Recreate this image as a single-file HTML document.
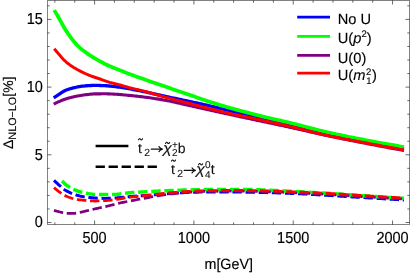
<!DOCTYPE html>
<html>
<head>
<meta charset="utf-8">
<title>plot</title>
<style>
html,body{margin:0;padding:0;background:#fff;}
body{width:410px;height:273px;overflow:hidden;font-family:"Liberation Sans",sans-serif;}
svg{display:block;will-change:transform;}
</style>
</head>
<body>
<svg width="410" height="273" viewBox="0 0 410 273">
<rect x="0" y="0" width="410" height="273" fill="#ffffff"/>
<g fill="none" stroke-linejoin="round">
<path d="M54.00 180.40 L55.50 181.82 L57.00 183.21 L58.50 184.56 L60.00 185.89 L61.50 187.26 L63.00 188.55 L64.50 189.68 L66.00 190.59 L67.50 191.43 L69.00 192.19 L70.50 192.89 L72.00 193.53 L73.50 194.09 L75.00 194.60 L76.50 195.06 L78.00 195.49 L79.50 195.89 L81.00 196.25 L82.50 196.57 L84.00 196.85 L85.50 197.07 L87.00 197.27 L88.50 197.45 L90.00 197.61 L91.50 197.75 L93.00 197.87 L94.50 197.97 L96.00 198.06 L97.50 198.14 L99.00 198.22 L100.50 198.29 L102.00 198.35 L103.50 198.39 L105.00 198.40 L106.50 198.39 L108.00 198.35 L109.50 198.29 L111.00 198.22 L112.50 198.14 L114.00 198.06 L115.50 197.97 L117.00 197.86 L118.50 197.71 L120.00 197.55 L121.50 197.38 L123.00 197.21 L124.50 197.04 L126.00 196.89 L127.50 196.76 L129.00 196.64 L130.50 196.53 L132.00 196.42 L133.50 196.31 L135.00 196.21 L136.50 196.11 L138.00 196.01 L139.50 195.91 L141.00 195.82 L142.50 195.72 L144.00 195.61 L145.50 195.51 L147.00 195.40 L148.50 195.29 L150.00 195.17 L151.50 195.05 L153.00 194.93 L154.50 194.80 L156.00 194.68 L157.50 194.55 L159.00 194.43 L160.50 194.30 L162.00 194.18 L163.50 194.06 L165.00 193.95 L166.50 193.84 L168.00 193.73 L169.50 193.62 L171.00 193.50 L172.50 193.39 L174.00 193.28 L175.50 193.17 L177.00 193.06 L178.50 192.96 L180.00 192.86 L181.50 192.77 L183.00 192.68 L184.50 192.61 L186.00 192.54 L187.50 192.48 L189.00 192.43 L190.50 192.37 L192.00 192.32 L193.50 192.27 L195.00 192.22 L196.50 192.17 L198.00 192.13 L199.50 192.09 L201.00 192.06 L202.50 192.04 L204.00 192.02 L205.50 192.00 L207.00 192.00 L208.50 192.00 L210.00 192.00 L211.50 192.00 L213.00 192.00 L214.50 192.01 L216.00 192.01 L217.50 192.01 L219.00 192.02 L220.50 192.02 L222.00 192.02 L223.50 192.03 L225.00 192.03 L226.50 192.04 L228.00 192.04 L229.50 192.05 L231.00 192.06 L232.50 192.06 L234.00 192.07 L235.50 192.08 L237.00 192.08 L238.50 192.09 L240.00 192.10 L241.50 192.11 L243.00 192.12 L244.50 192.14 L246.00 192.16 L247.50 192.18 L249.00 192.20 L250.50 192.23 L252.00 192.26 L253.50 192.29 L255.00 192.32 L256.50 192.36 L258.00 192.39 L259.50 192.43 L261.00 192.47 L262.50 192.50 L264.00 192.54 L265.50 192.58 L267.00 192.62 L268.50 192.66 L270.00 192.70 L271.50 192.74 L273.00 192.78 L274.50 192.83 L276.00 192.87 L277.50 192.92 L279.00 192.97 L280.50 193.02 L282.00 193.07 L283.50 193.12 L285.00 193.18 L286.50 193.24 L288.00 193.29 L289.50 193.35 L291.00 193.41 L292.50 193.48 L294.00 193.54 L295.50 193.60 L297.00 193.67 L298.50 193.73 L300.00 193.80 L301.50 193.87 L303.00 193.94 L304.50 194.02 L306.00 194.10 L307.50 194.18 L309.00 194.26 L310.50 194.35 L312.00 194.43 L313.50 194.52 L315.00 194.61 L316.50 194.70 L318.00 194.79 L319.50 194.89 L321.00 194.98 L322.50 195.07 L324.00 195.16 L325.50 195.25 L327.00 195.34 L328.50 195.43 L330.00 195.52 L331.50 195.61 L333.00 195.70 L334.50 195.79 L336.00 195.88 L337.50 195.97 L339.00 196.06 L340.50 196.15 L342.00 196.24 L343.50 196.33 L345.00 196.42 L346.50 196.51 L348.00 196.60 L349.50 196.69 L351.00 196.79 L352.50 196.88 L354.00 196.97 L355.50 197.06 L357.00 197.15 L358.50 197.24 L360.00 197.34 L361.50 197.43 L363.00 197.52 L364.50 197.61 L366.00 197.70 L367.50 197.79 L369.00 197.88 L370.50 197.97 L372.00 198.06 L373.50 198.15 L375.00 198.24 L376.50 198.34 L378.00 198.43 L379.50 198.52 L381.00 198.61 L382.50 198.70 L384.00 198.79 L385.50 198.88 L387.00 198.97 L388.50 199.06 L390.00 199.15 L391.50 199.24 L393.00 199.33 L394.50 199.42 L396.00 199.52 L397.50 199.61 L399.00 199.70 L400.50 199.79 L402.00 199.88 L403.50 199.97 L404.00 200.00" stroke="#0000ff" stroke-width="3.0" stroke-dasharray="9.4 3.72"/>
<path d="M62.0 181.0 L63.0 181.9" stroke="#00ff00" stroke-width="3.5"/>
<path d="M62.80 181.70 L64.30 183.25 L65.80 184.65 L67.30 185.81 L68.80 186.81 L70.30 187.72 L71.80 188.54 L73.30 189.28 L74.80 189.92 L76.30 190.50 L77.80 191.04 L79.30 191.53 L80.80 191.99 L82.30 192.40 L83.80 192.75 L85.30 193.06 L86.80 193.34 L88.30 193.61 L89.80 193.86 L91.30 194.08 L92.80 194.25 L94.30 194.37 L95.80 194.43 L97.30 194.47 L98.80 194.52 L100.30 194.55 L101.80 194.58 L103.30 194.59 L104.80 194.60 L106.30 194.60 L107.80 194.58 L109.30 194.56 L110.80 194.52 L112.30 194.48 L113.80 194.44 L115.30 194.39 L116.80 194.29 L118.30 194.14 L119.80 193.95 L121.30 193.73 L122.80 193.51 L124.30 193.30 L125.80 193.12 L127.30 192.97 L128.80 192.85 L130.30 192.73 L131.80 192.62 L133.30 192.52 L134.80 192.42 L136.30 192.32 L137.80 192.23 L139.30 192.14 L140.80 192.05 L142.30 191.96 L143.80 191.88 L145.30 191.80 L146.80 191.71 L148.30 191.63 L149.80 191.54 L151.30 191.46 L152.80 191.38 L154.30 191.30 L155.80 191.22 L157.30 191.15 L158.80 191.07 L160.30 191.00 L161.80 190.93 L163.30 190.86 L164.80 190.79 L166.30 190.73 L167.80 190.67 L169.30 190.61 L170.80 190.55 L172.30 190.49 L173.80 190.43 L175.30 190.37 L176.80 190.32 L178.30 190.26 L179.80 190.21 L181.30 190.16 L182.80 190.12 L184.30 190.07 L185.80 190.03 L187.30 189.99 L188.80 189.95 L190.30 189.92 L191.80 189.88 L193.30 189.84 L194.80 189.81 L196.30 189.78 L197.80 189.74 L199.30 189.71 L200.80 189.69 L202.30 189.66 L203.80 189.64 L205.30 189.62 L206.80 189.60 L208.30 189.59 L209.80 189.57 L211.30 189.56 L212.80 189.55 L214.30 189.53 L215.80 189.52 L217.30 189.51 L218.80 189.49 L220.30 189.48 L221.80 189.47 L223.30 189.46 L224.80 189.45 L226.30 189.44 L227.80 189.43 L229.30 189.43 L230.80 189.42 L232.30 189.41 L233.80 189.41 L235.30 189.41 L236.80 189.40 L238.30 189.40 L239.80 189.40 L241.30 189.40 L242.80 189.41 L244.30 189.43 L245.80 189.45 L247.30 189.48 L248.80 189.52 L250.30 189.56 L251.80 189.60 L253.30 189.65 L254.80 189.70 L256.30 189.76 L257.80 189.81 L259.30 189.87 L260.80 189.93 L262.30 189.99 L263.80 190.05 L265.30 190.12 L266.80 190.18 L268.30 190.23 L269.80 190.29 L271.30 190.35 L272.80 190.41 L274.30 190.47 L275.80 190.54 L277.30 190.61 L278.80 190.68 L280.30 190.76 L281.80 190.83 L283.30 190.91 L284.80 190.99 L286.30 191.07 L287.80 191.15 L289.30 191.23 L290.80 191.31 L292.30 191.39 L293.80 191.47 L295.30 191.55 L296.80 191.63 L298.30 191.71 L299.80 191.79 L301.30 191.87 L302.80 191.94 L304.30 192.02 L305.80 192.10 L307.30 192.18 L308.80 192.25 L310.30 192.33 L311.80 192.41 L313.30 192.49 L314.80 192.56 L316.30 192.64 L317.80 192.72 L319.30 192.81 L320.80 192.89 L322.30 192.97 L323.80 193.06 L325.30 193.14 L326.80 193.23 L328.30 193.32 L329.80 193.41 L331.30 193.50 L332.80 193.60 L334.30 193.69 L335.80 193.79 L337.30 193.89 L338.80 193.99 L340.30 194.10 L341.80 194.20 L343.30 194.30 L344.80 194.41 L346.30 194.52 L347.80 194.62 L349.30 194.73 L350.80 194.84 L352.30 194.94 L353.80 195.05 L355.30 195.16 L356.80 195.26 L358.30 195.37 L359.80 195.47 L361.30 195.58 L362.80 195.68 L364.30 195.79 L365.80 195.89 L367.30 195.99 L368.80 196.09 L370.30 196.19 L371.80 196.29 L373.30 196.39 L374.80 196.49 L376.30 196.59 L377.80 196.69 L379.30 196.79 L380.80 196.89 L382.30 196.98 L383.80 197.08 L385.30 197.18 L386.80 197.28 L388.30 197.38 L389.80 197.48 L391.30 197.58 L392.80 197.67 L394.30 197.77 L395.80 197.87 L397.30 197.97 L398.80 198.06 L400.30 198.16 L401.80 198.26 L403.30 198.35 L404.00 198.40" stroke="#00ff00" stroke-width="3.5" stroke-dasharray="9.4 3.72"/>
<path d="M54.00 210.40 L55.50 210.84 L57.00 211.25 L58.50 211.64 L60.00 212.00 L61.50 212.38 L63.00 212.78 L64.50 213.12 L66.00 213.35 L67.50 213.40 L69.00 213.40 L70.50 213.40 L72.00 213.40 L73.50 213.39 L75.00 213.27 L76.50 213.05 L78.00 212.78 L79.50 212.49 L81.00 212.21 L82.50 211.88 L84.00 211.52 L85.50 211.14 L87.00 210.74 L88.50 210.36 L90.00 210.00 L91.50 209.66 L93.00 209.33 L94.50 209.00 L96.00 208.68 L97.50 208.35 L99.00 208.02 L100.50 207.69 L102.00 207.35 L103.50 207.01 L105.00 206.67 L106.50 206.32 L108.00 205.97 L109.50 205.62 L111.00 205.26 L112.50 204.88 L114.00 204.49 L115.50 204.10 L117.00 203.72 L118.50 203.35 L120.00 203.00 L121.50 202.67 L123.00 202.36 L124.50 202.06 L126.00 201.76 L127.50 201.47 L129.00 201.19 L130.50 200.90 L132.00 200.61 L133.50 200.32 L135.00 200.03 L136.50 199.75 L138.00 199.46 L139.50 199.18 L141.00 198.90 L142.50 198.62 L144.00 198.35 L145.50 198.07 L147.00 197.80 L148.50 197.53 L150.00 197.25 L151.50 196.96 L153.00 196.68 L154.50 196.40 L156.00 196.13 L157.50 195.86 L159.00 195.61 L160.50 195.37 L162.00 195.14 L163.50 194.93 L165.00 194.73 L166.50 194.53 L168.00 194.34 L169.50 194.15 L171.00 193.97 L172.50 193.79 L174.00 193.62 L175.50 193.45 L177.00 193.29 L178.50 193.14 L180.00 192.99 L181.50 192.85 L183.00 192.72 L184.50 192.59 L186.00 192.47 L187.50 192.36 L189.00 192.25 L190.50 192.14 L192.00 192.03 L193.50 191.92 L195.00 191.82 L196.50 191.72 L198.00 191.62 L199.50 191.54 L201.00 191.46 L202.50 191.40 L204.00 191.35 L205.50 191.32 L207.00 191.30 L208.50 191.29 L210.00 191.28 L211.50 191.27 L213.00 191.27 L214.50 191.26 L216.00 191.25 L217.50 191.25 L219.00 191.24 L220.50 191.23 L222.00 191.23 L223.50 191.22 L225.00 191.22 L226.50 191.22 L228.00 191.21 L229.50 191.21 L231.00 191.21 L232.50 191.20 L234.00 191.20 L235.50 191.20 L237.00 191.20 L238.50 191.20 L240.00 191.20 L241.50 191.20 L243.00 191.21 L244.50 191.22 L246.00 191.24 L247.50 191.26 L249.00 191.28 L250.50 191.31 L252.00 191.33 L253.50 191.37 L255.00 191.40 L256.50 191.44 L258.00 191.47 L259.50 191.51 L261.00 191.55 L262.50 191.59 L264.00 191.64 L265.50 191.68 L267.00 191.72 L268.50 191.76 L270.00 191.80 L271.50 191.84 L273.00 191.89 L274.50 191.93 L276.00 191.98 L277.50 192.04 L279.00 192.09 L280.50 192.15 L282.00 192.21 L283.50 192.27 L285.00 192.33 L286.50 192.39 L288.00 192.46 L289.50 192.52 L291.00 192.59 L292.50 192.66 L294.00 192.72 L295.50 192.79 L297.00 192.86 L298.50 192.93 L300.00 193.00 L301.50 193.07 L303.00 193.14 L304.50 193.21 L306.00 193.29 L307.50 193.37 L309.00 193.44 L310.50 193.52 L312.00 193.60 L313.50 193.68 L315.00 193.77 L316.50 193.85 L318.00 193.93 L319.50 194.02 L321.00 194.10 L322.50 194.19 L324.00 194.27 L325.50 194.36 L327.00 194.44 L328.50 194.53 L330.00 194.61 L331.50 194.70 L333.00 194.79 L334.50 194.88 L336.00 194.97 L337.50 195.06 L339.00 195.15 L340.50 195.24 L342.00 195.33 L343.50 195.42 L345.00 195.51 L346.50 195.61 L348.00 195.70 L349.50 195.79 L351.00 195.89 L352.50 195.98 L354.00 196.07 L355.50 196.16 L357.00 196.26 L358.50 196.35 L360.00 196.44 L361.50 196.53 L363.00 196.62 L364.50 196.71 L366.00 196.80 L367.50 196.89 L369.00 196.98 L370.50 197.07 L372.00 197.15 L373.50 197.24 L375.00 197.33 L376.50 197.42 L378.00 197.51 L379.50 197.59 L381.00 197.68 L382.50 197.77 L384.00 197.85 L385.50 197.94 L387.00 198.03 L388.50 198.11 L390.00 198.20 L391.50 198.29 L393.00 198.37 L394.50 198.46 L396.00 198.55 L397.50 198.63 L399.00 198.72 L400.50 198.80 L402.00 198.89 L403.50 198.97 L404.00 199.00" stroke="#800080" stroke-width="2.75" stroke-dasharray="9.4 3.72"/>
<path d="M54.00 187.60 L55.50 188.90 L57.00 190.13 L58.50 191.30 L60.00 192.40 L61.50 193.47 L63.00 194.48 L64.50 195.36 L66.00 196.05 L67.50 196.68 L69.00 197.27 L70.50 197.80 L72.00 198.26 L73.50 198.67 L75.00 199.00 L76.50 199.28 L78.00 199.54 L79.50 199.77 L81.00 199.98 L82.50 200.16 L84.00 200.31 L85.50 200.44 L87.00 200.57 L88.50 200.69 L90.00 200.81 L91.50 200.90 L93.00 200.96 L94.50 201.00 L96.00 200.99 L97.50 200.96 L99.00 200.91 L100.50 200.85 L102.00 200.77 L103.50 200.69 L105.00 200.60 L106.50 200.50 L108.00 200.38 L109.50 200.24 L111.00 200.08 L112.50 199.90 L114.00 199.72 L115.50 199.54 L117.00 199.32 L118.50 199.07 L120.00 198.80 L121.50 198.52 L123.00 198.25 L124.50 197.98 L126.00 197.74 L127.50 197.53 L129.00 197.34 L130.50 197.16 L132.00 196.98 L133.50 196.81 L135.00 196.65 L136.50 196.50 L138.00 196.34 L139.50 196.19 L141.00 196.04 L142.50 195.88 L144.00 195.73 L145.50 195.57 L147.00 195.40 L148.50 195.23 L150.00 195.05 L151.50 194.87 L153.00 194.69 L154.50 194.51 L156.00 194.33 L157.50 194.14 L159.00 193.97 L160.50 193.79 L162.00 193.62 L163.50 193.45 L165.00 193.30 L166.50 193.15 L168.00 193.01 L169.50 192.87 L171.00 192.73 L172.50 192.59 L174.00 192.46 L175.50 192.32 L177.00 192.20 L178.50 192.08 L180.00 191.96 L181.50 191.85 L183.00 191.74 L184.50 191.65 L186.00 191.56 L187.50 191.47 L189.00 191.39 L190.50 191.32 L192.00 191.24 L193.50 191.17 L195.00 191.09 L196.50 191.03 L198.00 190.96 L199.50 190.91 L201.00 190.85 L202.50 190.80 L204.00 190.76 L205.50 190.73 L207.00 190.70 L208.50 190.68 L210.00 190.65 L211.50 190.63 L213.00 190.61 L214.50 190.59 L216.00 190.57 L217.50 190.55 L219.00 190.53 L220.50 190.52 L222.00 190.50 L223.50 190.49 L225.00 190.47 L226.50 190.46 L228.00 190.45 L229.50 190.44 L231.00 190.43 L232.50 190.42 L234.00 190.41 L235.50 190.41 L237.00 190.40 L238.50 190.40 L240.00 190.40 L241.50 190.40 L243.00 190.41 L244.50 190.42 L246.00 190.44 L247.50 190.46 L249.00 190.48 L250.50 190.51 L252.00 190.54 L253.50 190.57 L255.00 190.60 L256.50 190.64 L258.00 190.68 L259.50 190.72 L261.00 190.76 L262.50 190.80 L264.00 190.84 L265.50 190.88 L267.00 190.92 L268.50 190.96 L270.00 191.00 L271.50 191.04 L273.00 191.08 L274.50 191.13 L276.00 191.17 L277.50 191.22 L279.00 191.27 L280.50 191.33 L282.00 191.38 L283.50 191.44 L285.00 191.49 L286.50 191.55 L288.00 191.61 L289.50 191.67 L291.00 191.73 L292.50 191.79 L294.00 191.85 L295.50 191.91 L297.00 191.98 L298.50 192.04 L300.00 192.10 L301.50 192.16 L303.00 192.22 L304.50 192.29 L306.00 192.35 L307.50 192.42 L309.00 192.48 L310.50 192.55 L312.00 192.62 L313.50 192.68 L315.00 192.75 L316.50 192.82 L318.00 192.90 L319.50 192.97 L321.00 193.04 L322.50 193.12 L324.00 193.19 L325.50 193.27 L327.00 193.35 L328.50 193.43 L330.00 193.51 L331.50 193.59 L333.00 193.68 L334.50 193.77 L336.00 193.86 L337.50 193.95 L339.00 194.05 L340.50 194.14 L342.00 194.24 L343.50 194.33 L345.00 194.43 L346.50 194.53 L348.00 194.63 L349.50 194.73 L351.00 194.83 L352.50 194.93 L354.00 195.03 L355.50 195.13 L357.00 195.23 L358.50 195.33 L360.00 195.42 L361.50 195.52 L363.00 195.62 L364.50 195.71 L366.00 195.80 L367.50 195.89 L369.00 195.98 L370.50 196.07 L372.00 196.16 L373.50 196.25 L375.00 196.34 L376.50 196.43 L378.00 196.52 L379.50 196.60 L381.00 196.69 L382.50 196.78 L384.00 196.87 L385.50 196.95 L387.00 197.04 L388.50 197.13 L390.00 197.21 L391.50 197.30 L393.00 197.38 L394.50 197.47 L396.00 197.55 L397.50 197.64 L399.00 197.72 L400.50 197.81 L402.00 197.89 L403.50 197.97 L404.00 198.00" stroke="#ff0000" stroke-width="2.8" stroke-dasharray="9.4 3.72"/>
<path d="M53.70 97.80 L55.20 96.83 L56.70 95.87 L58.20 94.91 L59.70 93.94 L61.20 92.90 L62.70 91.88 L64.20 90.98 L65.70 90.31 L67.20 89.72 L68.70 89.19 L70.20 88.72 L71.70 88.29 L73.20 87.91 L74.70 87.56 L76.20 87.25 L77.70 86.95 L79.20 86.67 L80.70 86.42 L82.20 86.20 L83.70 86.02 L85.20 85.88 L86.70 85.77 L88.20 85.67 L89.70 85.57 L91.20 85.49 L92.70 85.44 L94.20 85.40 L95.70 85.40 L97.20 85.42 L98.70 85.45 L100.20 85.50 L101.70 85.56 L103.20 85.62 L104.70 85.69 L106.20 85.76 L107.70 85.87 L109.20 85.99 L110.70 86.14 L112.20 86.29 L113.70 86.46 L115.20 86.62 L116.70 86.80 L118.20 87.00 L119.70 87.22 L121.20 87.45 L122.70 87.69 L124.20 87.93 L125.70 88.18 L127.20 88.43 L128.70 88.69 L130.20 88.96 L131.70 89.23 L133.20 89.51 L134.70 89.80 L136.20 90.09 L137.70 90.39 L139.20 90.69 L140.70 91.00 L142.20 91.31 L143.70 91.62 L145.20 91.93 L146.70 92.24 L148.20 92.55 L149.70 92.87 L151.20 93.19 L152.70 93.52 L154.20 93.85 L155.70 94.19 L157.20 94.52 L158.70 94.86 L160.20 95.20 L161.70 95.53 L163.20 95.87 L164.70 96.20 L166.20 96.53 L167.70 96.85 L169.20 97.17 L170.70 97.49 L172.20 97.80 L173.70 98.11 L175.20 98.43 L176.70 98.74 L178.20 99.05 L179.70 99.36 L181.20 99.67 L182.70 99.99 L184.20 100.30 L185.70 100.62 L187.20 100.94 L188.70 101.27 L190.20 101.59 L191.70 101.91 L193.20 102.24 L194.70 102.56 L196.20 102.89 L197.70 103.22 L199.20 103.55 L200.70 103.88 L202.20 104.22 L203.70 104.55 L205.20 104.89 L206.70 105.23 L208.20 105.57 L209.70 105.92 L211.20 106.26 L212.70 106.61 L214.20 106.96 L215.70 107.31 L217.20 107.67 L218.70 108.02 L220.20 108.38 L221.70 108.74 L223.20 109.10 L224.70 109.46 L226.20 109.82 L227.70 110.18 L229.20 110.55 L230.70 110.92 L232.20 111.29 L233.70 111.66 L235.20 112.04 L236.70 112.42 L238.20 112.80 L239.70 113.18 L241.20 113.56 L242.70 113.94 L244.20 114.32 L245.70 114.69 L247.20 115.06 L248.70 115.43 L250.20 115.79 L251.70 116.15 L253.20 116.51 L254.70 116.87 L256.20 117.23 L257.70 117.59 L259.20 117.94 L260.70 118.29 L262.20 118.64 L263.70 118.99 L265.20 119.34 L266.70 119.68 L268.20 120.02 L269.70 120.36 L271.20 120.69 L272.70 121.01 L274.20 121.34 L275.70 121.66 L277.20 121.97 L278.70 122.29 L280.20 122.61 L281.70 122.92 L283.20 123.24 L284.70 123.56 L286.20 123.89 L287.70 124.21 L289.20 124.54 L290.70 124.88 L292.20 125.22 L293.70 125.57 L295.20 125.91 L296.70 126.26 L298.20 126.61 L299.70 126.97 L301.20 127.32 L302.70 127.68 L304.20 128.04 L305.70 128.39 L307.20 128.75 L308.70 129.11 L310.20 129.47 L311.70 129.83 L313.20 130.19 L314.70 130.54 L316.20 130.90 L317.70 131.25 L319.20 131.60 L320.70 131.95 L322.20 132.30 L323.70 132.64 L325.20 132.98 L326.70 133.31 L328.20 133.64 L329.70 133.97 L331.20 134.30 L332.70 134.63 L334.20 134.95 L335.70 135.27 L337.20 135.59 L338.70 135.91 L340.20 136.23 L341.70 136.55 L343.20 136.87 L344.70 137.18 L346.20 137.49 L347.70 137.80 L349.20 138.11 L350.70 138.42 L352.20 138.73 L353.70 139.04 L355.20 139.34 L356.70 139.65 L358.20 139.95 L359.70 140.25 L361.20 140.55 L362.70 140.85 L364.20 141.14 L365.70 141.44 L367.20 141.74 L368.70 142.03 L370.20 142.32 L371.70 142.61 L373.20 142.90 L374.70 143.19 L376.20 143.48 L377.70 143.77 L379.20 144.05 L380.70 144.34 L382.20 144.62 L383.70 144.90 L385.20 145.18 L386.70 145.46 L388.20 145.74 L389.70 146.02 L391.20 146.30 L392.70 146.57 L394.20 146.84 L395.70 147.12 L397.20 147.39 L398.70 147.66 L400.20 147.93 L401.70 148.19 L403.20 148.46 L404.00 148.60" stroke="#0000ff" stroke-width="3.3"/>
<path d="M54.20 10.10 L55.70 12.61 L57.20 15.15 L58.70 17.73 L60.20 20.35 L61.70 23.09 L63.20 25.87 L64.70 28.51 L66.20 30.90 L67.70 33.15 L69.20 35.29 L70.70 37.36 L72.20 39.36 L73.70 41.26 L75.20 43.03 L76.70 44.67 L78.20 46.21 L79.70 47.63 L81.20 48.92 L82.70 50.09 L84.20 51.21 L85.70 52.31 L87.20 53.39 L88.70 54.43 L90.20 55.43 L91.70 56.39 L93.20 57.33 L94.70 58.25 L96.20 59.15 L97.70 60.02 L99.20 60.86 L100.70 61.68 L102.20 62.48 L103.70 63.26 L105.20 64.03 L106.70 64.77 L108.20 65.48 L109.70 66.17 L111.20 66.82 L112.70 67.44 L114.20 68.04 L115.70 68.63 L117.20 69.21 L118.70 69.79 L120.20 70.38 L121.70 70.99 L123.20 71.59 L124.70 72.20 L126.20 72.79 L127.70 73.37 L129.20 73.93 L130.70 74.49 L132.20 75.04 L133.70 75.59 L135.20 76.13 L136.70 76.67 L138.20 77.20 L139.70 77.73 L141.20 78.26 L142.70 78.79 L144.20 79.32 L145.70 79.84 L147.20 80.37 L148.70 80.90 L150.20 81.42 L151.70 81.94 L153.20 82.46 L154.70 82.98 L156.20 83.50 L157.70 84.02 L159.20 84.53 L160.70 85.04 L162.20 85.56 L163.70 86.07 L165.20 86.58 L166.70 87.10 L168.20 87.61 L169.70 88.12 L171.20 88.63 L172.70 89.14 L174.20 89.65 L175.70 90.16 L177.20 90.67 L178.70 91.18 L180.20 91.68 L181.70 92.19 L183.20 92.70 L184.70 93.21 L186.20 93.73 L187.70 94.24 L189.20 94.76 L190.70 95.28 L192.20 95.81 L193.70 96.34 L195.20 96.86 L196.70 97.39 L198.20 97.92 L199.70 98.44 L201.20 98.96 L202.70 99.47 L204.20 99.98 L205.70 100.48 L207.20 100.96 L208.70 101.45 L210.20 101.93 L211.70 102.40 L213.20 102.87 L214.70 103.34 L216.20 103.80 L217.70 104.26 L219.20 104.72 L220.70 105.17 L222.20 105.62 L223.70 106.06 L225.20 106.50 L226.70 106.94 L228.20 107.37 L229.70 107.80 L231.20 108.22 L232.70 108.64 L234.20 109.06 L235.70 109.47 L237.20 109.88 L238.70 110.29 L240.20 110.69 L241.70 111.09 L243.20 111.48 L244.70 111.88 L246.20 112.27 L247.70 112.66 L249.20 113.05 L250.70 113.44 L252.20 113.83 L253.70 114.21 L255.20 114.59 L256.70 114.97 L258.20 115.35 L259.70 115.72 L261.20 116.10 L262.70 116.47 L264.20 116.84 L265.70 117.20 L267.20 117.57 L268.70 117.93 L270.20 118.29 L271.70 118.64 L273.20 118.98 L274.70 119.33 L276.20 119.67 L277.70 120.01 L279.20 120.35 L280.70 120.68 L282.20 121.02 L283.70 121.37 L285.20 121.71 L286.70 122.06 L288.20 122.41 L289.70 122.77 L291.20 123.13 L292.70 123.50 L294.20 123.87 L295.70 124.25 L297.20 124.63 L298.70 125.02 L300.20 125.40 L301.70 125.79 L303.20 126.18 L304.70 126.57 L306.20 126.96 L307.70 127.36 L309.20 127.75 L310.70 128.14 L312.20 128.53 L313.70 128.91 L315.20 129.30 L316.70 129.68 L318.20 130.05 L319.70 130.43 L321.20 130.80 L322.70 131.16 L324.20 131.52 L325.70 131.87 L327.20 132.22 L328.70 132.56 L330.20 132.89 L331.70 133.23 L333.20 133.56 L334.70 133.88 L336.20 134.21 L337.70 134.53 L339.20 134.85 L340.70 135.16 L342.20 135.48 L343.70 135.79 L345.20 136.10 L346.70 136.40 L348.20 136.71 L349.70 137.01 L351.20 137.31 L352.70 137.61 L354.20 137.91 L355.70 138.20 L357.20 138.50 L358.70 138.79 L360.20 139.08 L361.70 139.37 L363.20 139.66 L364.70 139.95 L366.20 140.24 L367.70 140.52 L369.20 140.81 L370.70 141.09 L372.20 141.37 L373.70 141.65 L375.20 141.93 L376.70 142.21 L378.20 142.49 L379.70 142.76 L381.20 143.04 L382.70 143.31 L384.20 143.58 L385.70 143.85 L387.20 144.11 L388.70 144.38 L390.20 144.64 L391.70 144.91 L393.20 145.17 L394.70 145.43 L396.20 145.68 L397.70 145.94 L399.20 146.20 L400.70 146.45 L402.20 146.70 L403.70 146.95 L404.00 147.00" stroke="#00ff00" stroke-width="3.7"/>
<path d="M53.70 104.10 L55.20 103.35 L56.70 102.64 L58.20 101.95 L59.70 101.30 L61.20 100.65 L62.70 100.04 L64.20 99.47 L65.70 98.97 L67.20 98.51 L68.70 98.06 L70.20 97.65 L71.70 97.26 L73.20 96.90 L74.70 96.56 L76.20 96.25 L77.70 95.96 L79.20 95.68 L80.70 95.42 L82.20 95.18 L83.70 94.96 L85.20 94.78 L86.70 94.60 L88.20 94.42 L89.70 94.26 L91.20 94.11 L92.70 94.00 L94.20 93.92 L95.70 93.89 L97.20 93.86 L98.70 93.84 L100.20 93.83 L101.70 93.81 L103.20 93.80 L104.70 93.80 L106.20 93.81 L107.70 93.84 L109.20 93.90 L110.70 93.97 L112.20 94.05 L113.70 94.13 L115.20 94.21 L116.70 94.30 L118.20 94.41 L119.70 94.53 L121.20 94.66 L122.70 94.79 L124.20 94.93 L125.70 95.08 L127.20 95.22 L128.70 95.36 L130.20 95.51 L131.70 95.66 L133.20 95.81 L134.70 95.96 L136.20 96.12 L137.70 96.29 L139.20 96.45 L140.70 96.62 L142.20 96.80 L143.70 96.98 L145.20 97.17 L146.70 97.36 L148.20 97.56 L149.70 97.76 L151.20 97.98 L152.70 98.20 L154.20 98.42 L155.70 98.66 L157.20 98.90 L158.70 99.14 L160.20 99.39 L161.70 99.65 L163.20 99.91 L164.70 100.18 L166.20 100.45 L167.70 100.73 L169.20 101.02 L170.70 101.33 L172.20 101.64 L173.70 101.97 L175.20 102.30 L176.70 102.64 L178.20 102.98 L179.70 103.33 L181.20 103.68 L182.70 104.02 L184.20 104.37 L185.70 104.71 L187.20 105.04 L188.70 105.38 L190.20 105.72 L191.70 106.05 L193.20 106.39 L194.70 106.73 L196.20 107.07 L197.70 107.41 L199.20 107.75 L200.70 108.09 L202.20 108.43 L203.70 108.76 L205.20 109.10 L206.70 109.43 L208.20 109.77 L209.70 110.10 L211.20 110.43 L212.70 110.76 L214.20 111.08 L215.70 111.41 L217.20 111.74 L218.70 112.07 L220.20 112.39 L221.70 112.72 L223.20 113.04 L224.70 113.37 L226.20 113.69 L227.70 114.02 L229.20 114.34 L230.70 114.67 L232.20 114.99 L233.70 115.32 L235.20 115.64 L236.70 115.96 L238.20 116.29 L239.70 116.61 L241.20 116.93 L242.70 117.26 L244.20 117.58 L245.70 117.90 L247.20 118.22 L248.70 118.54 L250.20 118.85 L251.70 119.17 L253.20 119.49 L254.70 119.80 L256.20 120.12 L257.70 120.43 L259.20 120.74 L260.70 121.05 L262.20 121.37 L263.70 121.68 L265.20 122.00 L266.70 122.31 L268.20 122.63 L269.70 122.95 L271.20 123.27 L272.70 123.59 L274.20 123.91 L275.70 124.23 L277.20 124.55 L278.70 124.87 L280.20 125.19 L281.70 125.52 L283.20 125.84 L284.70 126.16 L286.20 126.49 L287.70 126.82 L289.20 127.14 L290.70 127.47 L292.20 127.80 L293.70 128.14 L295.20 128.47 L296.70 128.81 L298.20 129.15 L299.70 129.49 L301.20 129.83 L302.70 130.17 L304.20 130.51 L305.70 130.85 L307.20 131.19 L308.70 131.53 L310.20 131.87 L311.70 132.21 L313.20 132.55 L314.70 132.89 L316.20 133.23 L317.70 133.56 L319.20 133.89 L320.70 134.23 L322.20 134.55 L323.70 134.88 L325.20 135.20 L326.70 135.52 L328.20 135.84 L329.70 136.16 L331.20 136.47 L332.70 136.78 L334.20 137.09 L335.70 137.40 L337.20 137.71 L338.70 138.01 L340.20 138.32 L341.70 138.62 L343.20 138.92 L344.70 139.22 L346.20 139.52 L347.70 139.82 L349.20 140.12 L350.70 140.42 L352.20 140.71 L353.70 141.01 L355.20 141.30 L356.70 141.59 L358.20 141.89 L359.70 142.18 L361.20 142.47 L362.70 142.76 L364.20 143.05 L365.70 143.34 L367.20 143.63 L368.70 143.92 L370.20 144.21 L371.70 144.50 L373.20 144.78 L374.70 145.07 L376.20 145.35 L377.70 145.64 L379.20 145.92 L380.70 146.20 L382.20 146.49 L383.70 146.77 L385.20 147.05 L386.70 147.33 L388.20 147.61 L389.70 147.89 L391.20 148.16 L392.70 148.44 L394.20 148.72 L395.70 148.99 L397.20 149.27 L398.70 149.54 L400.20 149.81 L401.70 150.08 L403.20 150.36 L404.00 150.50" stroke="#800080" stroke-width="3.1"/>
<path d="M54.20 48.80 L55.70 50.57 L57.20 52.33 L58.70 54.06 L60.20 55.79 L61.70 57.54 L63.20 59.20 L64.70 60.66 L66.20 62.01 L67.70 63.26 L69.20 64.42 L70.70 65.49 L72.20 66.49 L73.70 67.45 L75.20 68.35 L76.70 69.22 L78.20 70.04 L79.70 70.84 L81.20 71.62 L82.70 72.37 L84.20 73.09 L85.70 73.78 L87.20 74.45 L88.70 75.08 L90.20 75.68 L91.70 76.24 L93.20 76.76 L94.70 77.27 L96.20 77.75 L97.70 78.24 L99.20 78.73 L100.70 79.24 L102.20 79.77 L103.70 80.30 L105.20 80.83 L106.70 81.35 L108.20 81.84 L109.70 82.31 L111.20 82.74 L112.70 83.14 L114.20 83.53 L115.70 83.90 L117.20 84.27 L118.70 84.65 L120.20 85.05 L121.70 85.48 L123.20 85.92 L124.70 86.35 L126.20 86.78 L127.70 87.19 L129.20 87.58 L130.70 87.96 L132.20 88.34 L133.70 88.71 L135.20 89.07 L136.70 89.44 L138.20 89.80 L139.70 90.16 L141.20 90.53 L142.70 90.90 L144.20 91.27 L145.70 91.66 L147.20 92.05 L148.70 92.46 L150.20 92.88 L151.70 93.30 L153.20 93.73 L154.70 94.17 L156.20 94.61 L157.70 95.05 L159.20 95.49 L160.70 95.93 L162.20 96.36 L163.70 96.79 L165.20 97.21 L166.70 97.62 L168.20 98.02 L169.70 98.42 L171.20 98.81 L172.70 99.19 L174.20 99.57 L175.70 99.95 L177.20 100.33 L178.70 100.71 L180.20 101.08 L181.70 101.46 L183.20 101.83 L184.70 102.21 L186.20 102.59 L187.70 102.98 L189.20 103.37 L190.70 103.76 L192.20 104.15 L193.70 104.55 L195.20 104.94 L196.70 105.34 L198.20 105.73 L199.70 106.13 L201.20 106.52 L202.70 106.91 L204.20 107.29 L205.70 107.67 L207.20 108.05 L208.70 108.43 L210.20 108.80 L211.70 109.18 L213.20 109.55 L214.70 109.93 L216.20 110.30 L217.70 110.66 L219.20 111.03 L220.70 111.39 L222.20 111.75 L223.70 112.10 L225.20 112.45 L226.70 112.79 L228.20 113.12 L229.70 113.45 L231.20 113.77 L232.70 114.08 L234.20 114.38 L235.70 114.68 L237.20 114.97 L238.70 115.26 L240.20 115.55 L241.70 115.84 L243.20 116.13 L244.70 116.43 L246.20 116.73 L247.70 117.03 L249.20 117.34 L250.70 117.66 L252.20 117.98 L253.70 118.30 L255.20 118.63 L256.70 118.96 L258.20 119.29 L259.70 119.62 L261.20 119.96 L262.70 120.29 L264.20 120.63 L265.70 120.96 L267.20 121.30 L268.70 121.63 L270.20 121.97 L271.70 122.30 L273.20 122.63 L274.70 122.97 L276.20 123.30 L277.70 123.64 L279.20 123.97 L280.70 124.31 L282.20 124.65 L283.70 124.99 L285.20 125.33 L286.70 125.67 L288.20 126.01 L289.70 126.36 L291.20 126.72 L292.70 127.07 L294.20 127.43 L295.70 127.80 L297.20 128.16 L298.70 128.53 L300.20 128.91 L301.70 129.28 L303.20 129.65 L304.70 130.03 L306.20 130.41 L307.70 130.78 L309.20 131.16 L310.70 131.53 L312.20 131.90 L313.70 132.27 L315.20 132.64 L316.70 133.00 L318.20 133.36 L319.70 133.72 L321.20 134.07 L322.70 134.42 L324.20 134.76 L325.70 135.10 L327.20 135.43 L328.70 135.75 L330.20 136.07 L331.70 136.38 L333.20 136.70 L334.70 137.00 L336.20 137.31 L337.70 137.61 L339.20 137.91 L340.70 138.20 L342.20 138.50 L343.70 138.79 L345.20 139.08 L346.70 139.37 L348.20 139.65 L349.70 139.94 L351.20 140.22 L352.70 140.50 L354.20 140.78 L355.70 141.07 L357.20 141.35 L358.70 141.63 L360.20 141.91 L361.70 142.19 L363.20 142.47 L364.70 142.75 L366.20 143.04 L367.70 143.32 L369.20 143.60 L370.70 143.89 L372.20 144.17 L373.70 144.45 L375.20 144.73 L376.70 145.01 L378.20 145.29 L379.70 145.57 L381.20 145.85 L382.70 146.12 L384.20 146.40 L385.70 146.68 L387.20 146.95 L388.70 147.23 L390.20 147.50 L391.70 147.78 L393.20 148.05 L394.70 148.32 L396.20 148.60 L397.70 148.87 L399.20 149.14 L400.70 149.41 L402.20 149.68 L403.70 149.95 L404.00 150.00" stroke="#ff0000" stroke-width="2.95"/>
</g>
<g stroke="#828282" stroke-width="1" fill="none" shape-rendering="crispEdges">
<rect x="47.5" y="0.5" width="362.0" height="224.0"/>
</g>
<g stroke="#505050" stroke-width="0.85" fill="none">
<path d="M54.85 225.0 V222.3"/>
<path d="M54.85 0.0 V2.7"/>
<path d="M74.72 225.0 V222.3"/>
<path d="M74.72 0.0 V2.7"/>
<path d="M94.58 225.0 V220.5"/>
<path d="M94.58 0.0 V4.5"/>
<path d="M114.44 225.0 V222.3"/>
<path d="M114.44 0.0 V2.7"/>
<path d="M134.31 225.0 V222.3"/>
<path d="M134.31 0.0 V2.7"/>
<path d="M154.18 225.0 V222.3"/>
<path d="M154.18 0.0 V2.7"/>
<path d="M174.04 225.0 V222.3"/>
<path d="M174.04 0.0 V2.7"/>
<path d="M193.91 225.0 V220.5"/>
<path d="M193.91 0.0 V4.5"/>
<path d="M213.77 225.0 V222.3"/>
<path d="M213.77 0.0 V2.7"/>
<path d="M233.63 225.0 V222.3"/>
<path d="M233.63 0.0 V2.7"/>
<path d="M253.50 225.0 V222.3"/>
<path d="M253.50 0.0 V2.7"/>
<path d="M273.37 225.0 V222.3"/>
<path d="M273.37 0.0 V2.7"/>
<path d="M293.23 225.0 V220.5"/>
<path d="M293.23 0.0 V4.5"/>
<path d="M313.09 225.0 V222.3"/>
<path d="M313.09 0.0 V2.7"/>
<path d="M332.96 225.0 V222.3"/>
<path d="M332.96 0.0 V2.7"/>
<path d="M352.82 225.0 V222.3"/>
<path d="M352.82 0.0 V2.7"/>
<path d="M372.69 225.0 V222.3"/>
<path d="M372.69 0.0 V2.7"/>
<path d="M392.55 225.0 V220.5"/>
<path d="M392.55 0.0 V4.5"/>
<path d="M47.0 222.50 H51.5"/>
<path d="M410.0 222.50 H405.5"/>
<path d="M47.0 208.96 H49.7"/>
<path d="M410.0 208.96 H407.3"/>
<path d="M47.0 195.42 H49.7"/>
<path d="M410.0 195.42 H407.3"/>
<path d="M47.0 181.88 H49.7"/>
<path d="M410.0 181.88 H407.3"/>
<path d="M47.0 168.34 H49.7"/>
<path d="M410.0 168.34 H407.3"/>
<path d="M47.0 154.80 H51.5"/>
<path d="M410.0 154.80 H405.5"/>
<path d="M47.0 141.26 H49.7"/>
<path d="M410.0 141.26 H407.3"/>
<path d="M47.0 127.72 H49.7"/>
<path d="M410.0 127.72 H407.3"/>
<path d="M47.0 114.18 H49.7"/>
<path d="M410.0 114.18 H407.3"/>
<path d="M47.0 100.64 H49.7"/>
<path d="M410.0 100.64 H407.3"/>
<path d="M47.0 87.10 H51.5"/>
<path d="M410.0 87.10 H405.5"/>
<path d="M47.0 73.56 H49.7"/>
<path d="M410.0 73.56 H407.3"/>
<path d="M47.0 60.02 H49.7"/>
<path d="M410.0 60.02 H407.3"/>
<path d="M47.0 46.48 H49.7"/>
<path d="M410.0 46.48 H407.3"/>
<path d="M47.0 32.94 H49.7"/>
<path d="M410.0 32.94 H407.3"/>
<path d="M47.0 19.40 H51.5"/>
<path d="M410.0 19.40 H405.5"/>
<path d="M47.0 5.86 H49.7"/>
<path d="M410.0 5.86 H407.3"/>
</g>
<g font-family="Liberation Sans, sans-serif" font-size="14" fill="#000000" text-rendering="geometricPrecision">
<text transform="translate(42.8,227.45) scale(1,1.10)" font-size="14.5" stroke="#000" stroke-width="0.15" text-anchor="end">0</text>
<text transform="translate(42.8,159.75) scale(1,1.10)" font-size="14.5" stroke="#000" stroke-width="0.15" text-anchor="end">5</text>
<text transform="translate(42.8,92.05) scale(1,1.10)" font-size="14.5" stroke="#000" stroke-width="0.15" text-anchor="end">10</text>
<text transform="translate(42.8,24.35) scale(1,1.10)" font-size="14.5" stroke="#000" stroke-width="0.15" text-anchor="end">15</text>
<text transform="translate(94.58,243.2) scale(1,1.10)" font-size="14.5" stroke="#000" stroke-width="0.15" text-anchor="middle">500</text>
<text transform="translate(193.91,243.2) scale(1,1.10)" font-size="14.5" stroke="#000" stroke-width="0.15" text-anchor="middle">1000</text>
<text transform="translate(293.23,243.2) scale(1,1.10)" font-size="14.5" stroke="#000" stroke-width="0.15" text-anchor="middle">1500</text>
<text transform="translate(392.55,243.2) scale(1,1.10)" font-size="14.5" stroke="#000" stroke-width="0.15" text-anchor="middle">2000</text>
<text transform="translate(228.7,269.1) scale(1,1.04)" font-size="14.3" stroke="#000" stroke-width="0.15" text-anchor="middle">m[GeV]</text>
<g transform="translate(13.2,149.0) rotate(-90)"><text x="0" y="0" stroke="#000" stroke-width="0.12">&#916;<tspan font-size="10.8" dy="2.6">NLO&#8722;LO</tspan><tspan dy="-2.6">[%]</tspan></text></g>
<path d="M297.2 17.1 H330" stroke="#0000ff" stroke-width="2.7" fill="none"/>
<text x="337.8" y="23.7" font-size="14.65" stroke="#000" stroke-width="0.12">No U</text>
<path d="M297.2 36.4 H330" stroke="#00ff00" stroke-width="2.7" fill="none"/>
<text x="337.8" y="42.8" font-size="14.65" stroke="#000" stroke-width="0.12">U(<tspan font-style="italic">p</tspan><tspan font-size="9.5" dy="-5.5">2</tspan><tspan dy="5.5">)</tspan></text>
<path d="M297.2 55.3 H330" stroke="#800080" stroke-width="2.7" fill="none"/>
<text x="337.8" y="63.0" font-size="14.65" stroke="#000" stroke-width="0.12">U(0)</text>
<path d="M297.2 73.1 H330" stroke="#ff0000" stroke-width="2.7" fill="none"/>
<text x="337.8" y="80.1" font-size="14.65" stroke="#000" stroke-width="0.12">U(<tspan font-style="italic">m</tspan><tspan font-size="9.5" dy="-5.1" dx="0.6">2</tspan><tspan font-size="9.5" dx="-5.0" dy="8.6">1</tspan><tspan dy="-3.5" dx="0.3">)</tspan></text>
<path d="M95.6 145.9 H128.4" stroke="#000" stroke-width="2.5" fill="none"/>
<path d="M95.6 166.8 H157.4" stroke="#000" stroke-width="2.5" stroke-dasharray="9.3 3.7" fill="none"/>
<g transform="translate(0,0)" fill="#111" stroke="#111" stroke-width="0.1"><text x="138.0" y="152.5">t</text><path d="M138.45 139.80 q1.02 -1.98 2.05 -0.50 t2.05 -0.50" stroke="#111" stroke-width="1.1" fill="none" stroke-linecap="round"/><text x="144.3" y="155.5" font-size="10.4">2</text><path d="M151.2 149.1 H161.6 M159.0 146.6 Q160.2 148.5 162.4 149.1 Q160.2 149.7 159.0 151.6" stroke="#111" stroke-width="1.15" fill="none" stroke-linejoin="round" stroke-linecap="round"/><text transform="translate(163.0,152.6) scale(1.12,1)" font-size="14.6" font-style="italic">&#967;</text><path d="M165.55 143.40 q1.02 -1.98 2.05 -0.50 t2.05 -0.50" stroke="#111" stroke-width="1.1" fill="none" stroke-linecap="round"/><text x="171.9" y="148.2" font-size="10">+</text><text x="171.9" y="155.8" font-size="10">2</text><text x="177.7" y="152.5">b</text></g>
<g transform="translate(33,21.3)" fill="#111" stroke="#111" stroke-width="0.1"><text x="138.0" y="152.5">t</text><path d="M138.45 139.80 q1.02 -1.98 2.05 -0.50 t2.05 -0.50" stroke="#111" stroke-width="1.1" fill="none" stroke-linecap="round"/><text x="144.3" y="155.5" font-size="10.4">2</text><path d="M151.2 149.1 H161.6 M159.0 146.6 Q160.2 148.5 162.4 149.1 Q160.2 149.7 159.0 151.6" stroke="#111" stroke-width="1.15" fill="none" stroke-linejoin="round" stroke-linecap="round"/><text transform="translate(163.0,152.6) scale(1.12,1)" font-size="14.6" font-style="italic">&#967;</text><path d="M165.55 143.40 q1.02 -1.98 2.05 -0.50 t2.05 -0.50" stroke="#111" stroke-width="1.1" fill="none" stroke-linecap="round"/><text x="171.9" y="146.9" font-size="10">0</text><text x="171.9" y="156.4" font-size="10">4</text><text x="177.8" y="152.5">t</text></g>
</g>
</svg>
</body>
</html>
